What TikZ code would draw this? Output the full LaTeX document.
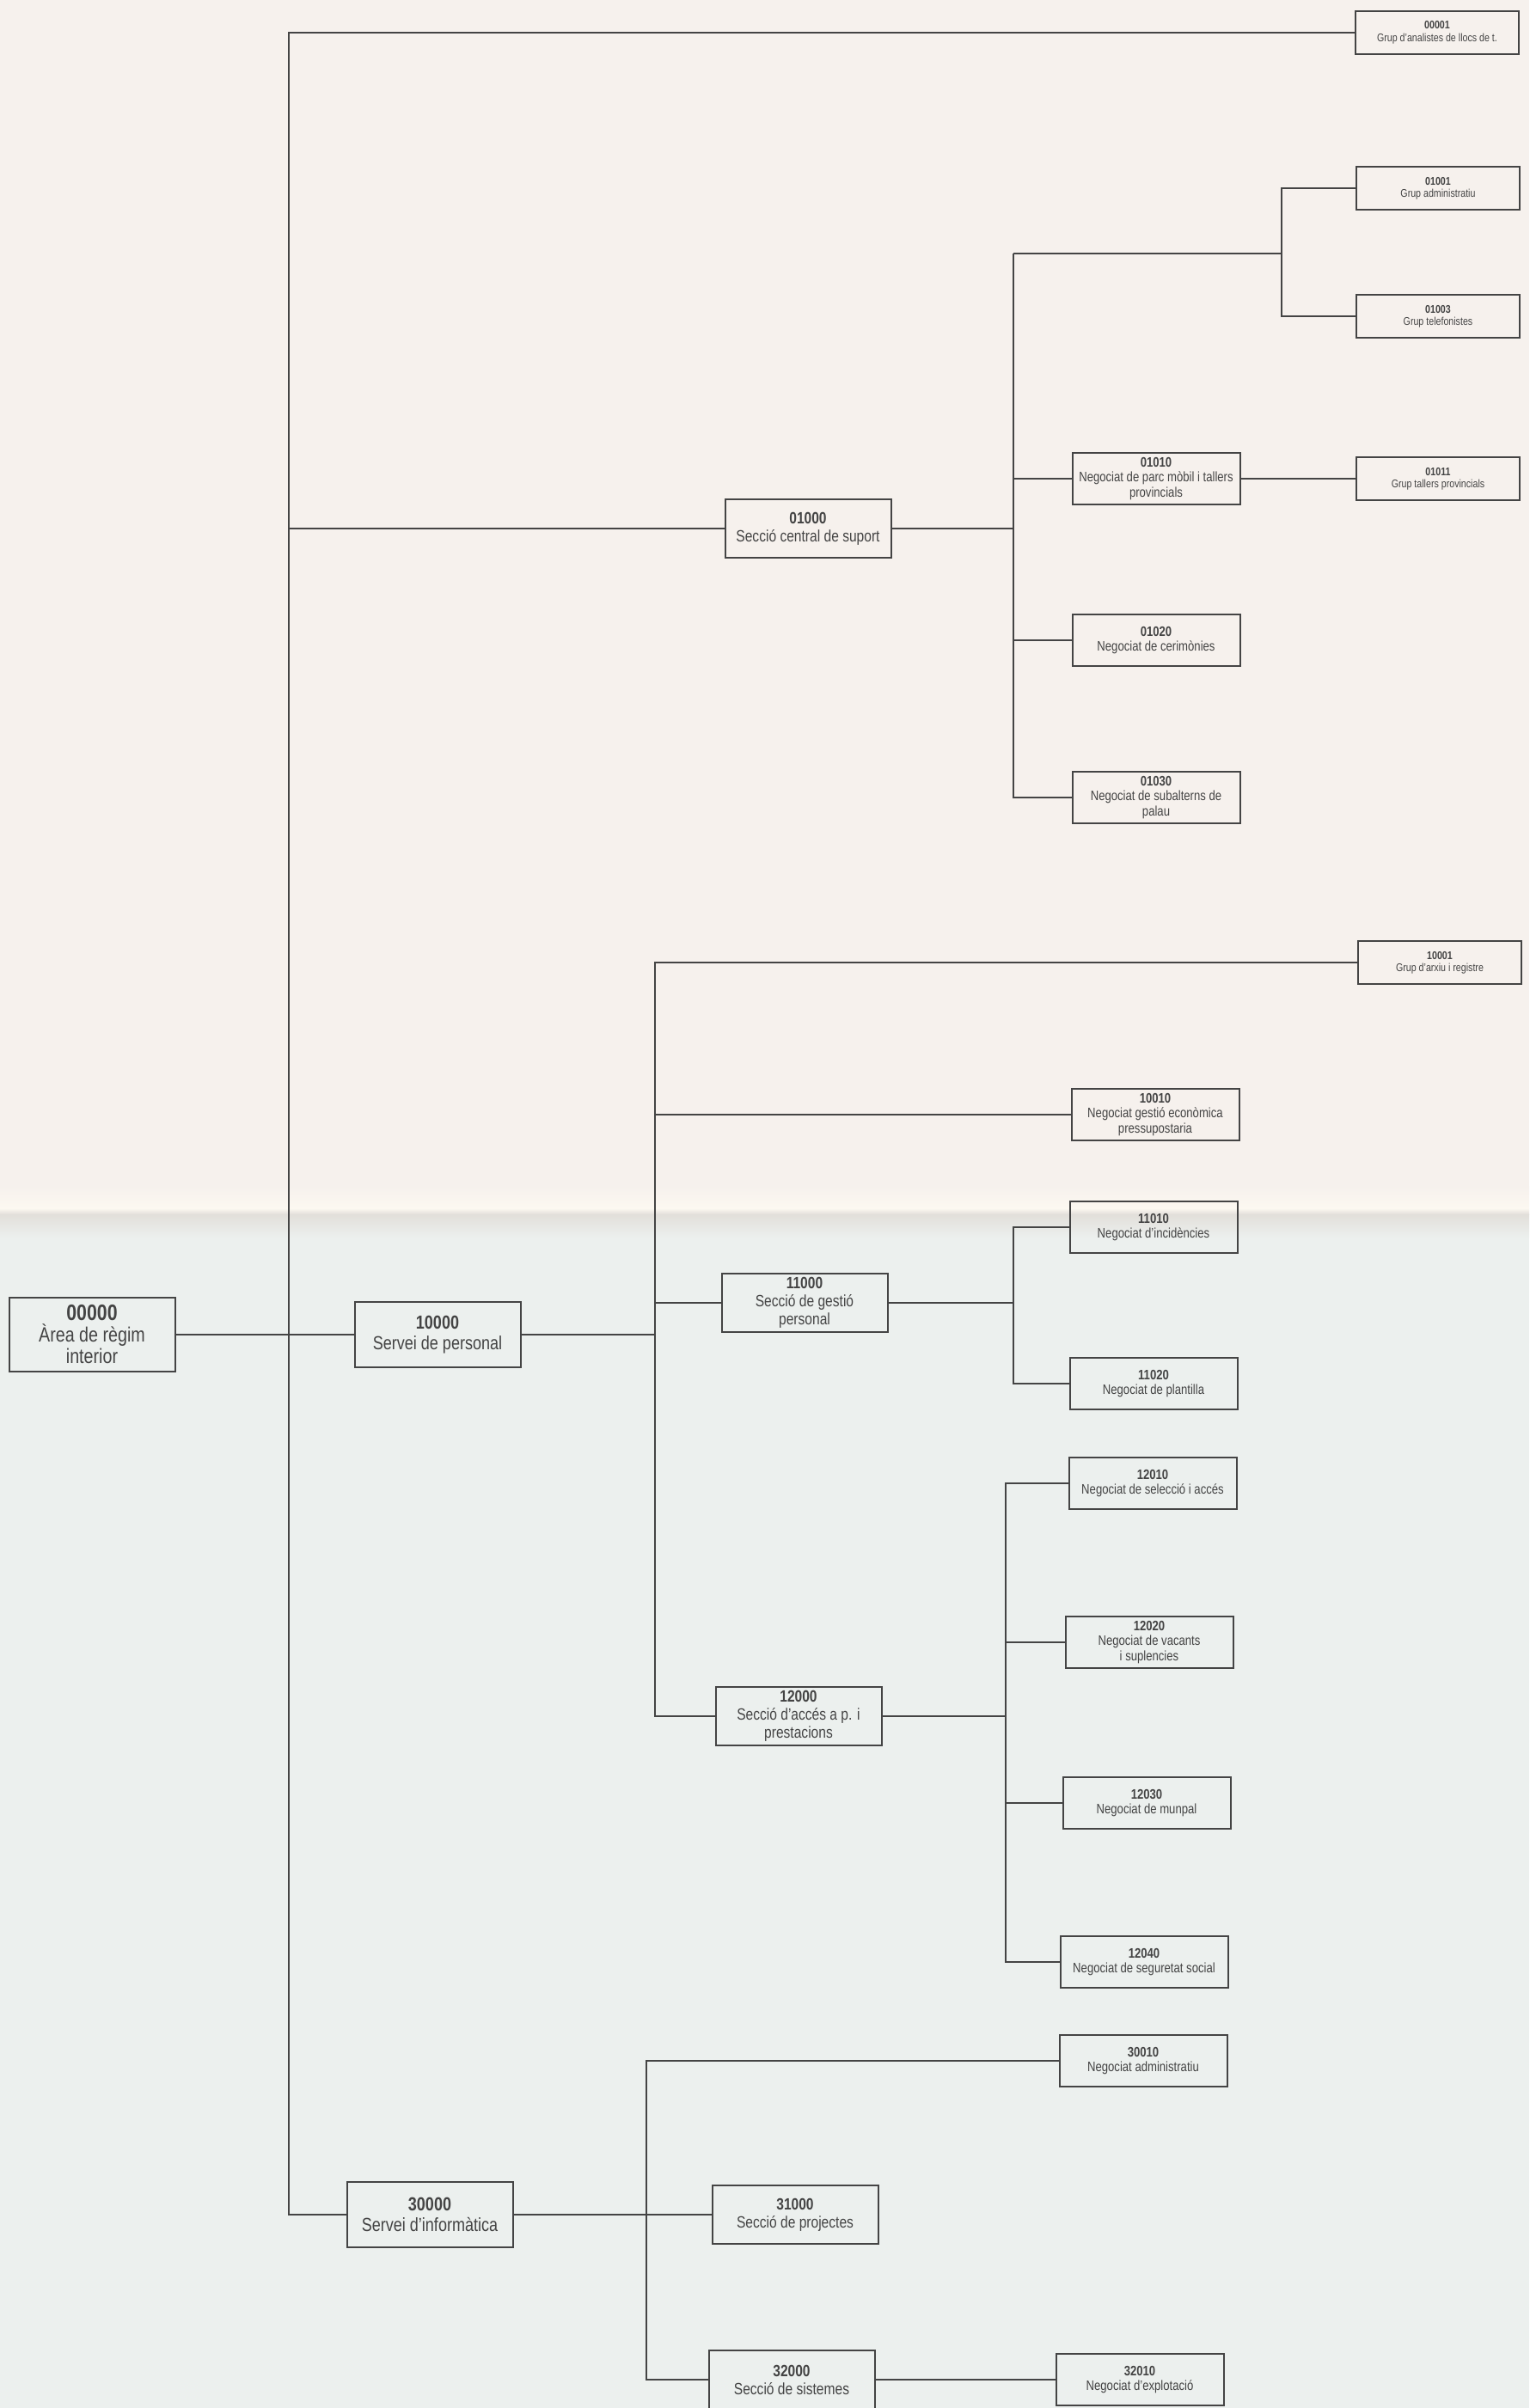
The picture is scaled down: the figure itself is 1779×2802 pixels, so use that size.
\documentclass[tikz,border=0pt]{standalone}
\usepackage{fontspec}
\setmainfont[FakeStretch=0.82]{Liberation Sans}
\usetikzlibrary{positioning, calc}

\definecolor{papertop}{RGB}{246,241,237}
\definecolor{paperbot}{RGB}{236,240,238}
\definecolor{foldlight}{RGB}{252,248,241}
\definecolor{foldgray}{RGB}{226,223,218}
\definecolor{ink}{RGB}{68,68,68}

\begin{document}
\begin{tikzpicture}[
  x=0.5pt, y=-0.5pt,
  unit/.style={draw=ink, line width=1pt, text=ink, align=center, inner sep=1pt},
  area/.style={unit, minimum width=96.5pt, minimum height=43pt,
               font=\fontsize{12}{12.5}\selectfont},
  serv/.style={unit, minimum width=96.5pt, minimum height=38pt,
               font=\fontsize{11}{12}\selectfont},
  secc/.style={unit, minimum width=96.5pt, minimum height=34pt,
               font=\fontsize{9.5}{10.5}\selectfont},
  nego/.style={unit, minimum width=97.5pt, minimum height=30pt,
               font=\fontsize{8}{8.6}\selectfont},
  grup/.style={unit, minimum width=95pt, minimum height=25pt,
               font=\fontsize{6.5}{7.2}\selectfont},
  link/.style={draw=ink, line width=1pt},
]

% paper
\useasboundingbox (0,0) rectangle (1779,2802);
\fill[papertop] (0,0) rectangle (1779,1380);
\shade[top color=papertop, bottom color=foldlight] (0,1380) rectangle (1779,1406);
\shade[top color=foldlight, bottom color=foldgray] (0,1406) rectangle (1779,1413);
\shade[top color=foldgray, bottom color=paperbot] (0,1413) rectangle (1779,1440);
\fill[paperbot] (0,1440) rectangle (1779,2802);

% top levels
\node[area] (area) at (107,1553) {{\fontsize{13}{13}\selectfont\textbf{00000}}\\Àrea de règim\\interior};
\node[serv] (pers) at (509,1553) {\textbf{10000}\\Servei de personal};
\node[serv] (info) at (500,2577) {\textbf{30000}\\Servei d'informàtica};

% seccions
\node[secc] (supo) at (940,615) {\textbf{01000}\\Secció central de suport};
\node[secc] (gest) at (936,1516) {\textbf{11000}\\Secció de gestió\\personal};
\node[secc] (acce) at (929,1997) {\textbf{12000}\\Secció d'accés a p. i\\prestacions};
\node[secc] (proj) at (925,2577) {\textbf{31000}\\Secció de projectes};
\node[secc] (sist) at (921,2769) {\textbf{32000}\\Secció de sistemes};

% negociats
\node[nego] (parc) at (1345,557) {\textbf{01010}\\Negociat de parc mòbil i tallers\\provincials};
\node[nego] (ceri) at (1345,745) {\textbf{01020}\\Negociat de cerimònies};
\node[nego] (suba) at (1345,928) {\textbf{01030}\\Negociat de subalterns de\\palau};
\node[nego] (econ) at (1344,1297) {\textbf{10010}\\Negociat gestió econòmica\\pressupostaria};
\node[nego] (inci) at (1342,1428) {\textbf{11010}\\Negociat d'incidències};
\node[nego] (plan) at (1342,1610) {\textbf{11020}\\Negociat de plantilla};
\node[nego] (sele) at (1341,1726) {\textbf{12010}\\Negociat de selecció i accés};
\node[nego] (vaca) at (1337,1911) {\textbf{12020}\\Negociat de vacants\\i suplencies};
\node[nego] (munp) at (1334,2098) {\textbf{12030}\\Negociat de munpal};
\node[nego] (segu) at (1331,2283) {\textbf{12040}\\Negociat de seguretat social};
\node[nego] (nadm) at (1330,2398) {\textbf{30010}\\Negociat administratiu};
\node[nego] (expl) at (1326,2769) {\textbf{32010}\\Negociat d'explotació};

% grups
\node[grup] (anal) at (1672,38) {\textbf{00001}\\Grup d'analistes de llocs de t.};
\node[grup] (admi) at (1673,219) {\textbf{01001}\\Grup administratiu};
\node[grup] (tele) at (1673,368) {\textbf{01003}\\Grup telefonistes};
\node[grup] (tall) at (1673,557) {\textbf{01011}\\Grup tallers provincials};
\node[grup] (arxi) at (1675,1120) {\textbf{10001}\\Grup d'arxiu i registre};

% branch lines
\coordinate (trunk) at (336,0);
\coordinate (b0) at (1179,0);
\coordinate (g0) at (1491,295);
\coordinate (b1) at (762,0);
\coordinate (b2) at (1179,0);
\coordinate (b3) at (1170,0);
\coordinate (b4) at (752,0);

\draw[link] (anal.west) -| (trunk |- info.west) -- (info.west);
\draw[link] (trunk |- supo.west) -- (supo.west);
\draw[link] (area) -- (pers);

\draw[link] (supo) -- (b0 |- supo.east);
\draw[link] (b0 |- g0) |- (suba.west);
\draw[link] (b0 |- g0) -- (g0);
\draw[link] (admi.west) -| (g0) |- (tele.west);
\draw[link] (b0 |- parc.west) -- (parc.west);
\draw[link] (parc) -- (tall);
\draw[link] (b0 |- ceri.west) -- (ceri.west);

\draw[link] (pers) -- (b1 |- pers.east);
\draw[link] (arxi.west) -| (b1 |- acce.west) -- (acce.west);
\draw[link] (b1 |- econ.west) -- (econ.west);
\draw[link] (b1 |- gest.west) -- (gest.west);
\draw[link] (gest) -- (b2 |- gest.east);
\draw[link] (inci.west) -| (b2 |- plan.west) -- (plan.west);
\draw[link] (acce) -- (b3 |- acce.east);
\draw[link] (sele.west) -| (b3 |- segu.west) -- (segu.west);
\draw[link] (b3 |- vaca.west) -- (vaca.west);
\draw[link] (b3 |- munp.west) -- (munp.west);

\draw[link] (info) -- (proj);
\draw[link] (nadm.west) -| (b4 |- sist.west) -- (sist.west);
\draw[link] (sist) -- (expl);

\end{tikzpicture}
\end{document}
